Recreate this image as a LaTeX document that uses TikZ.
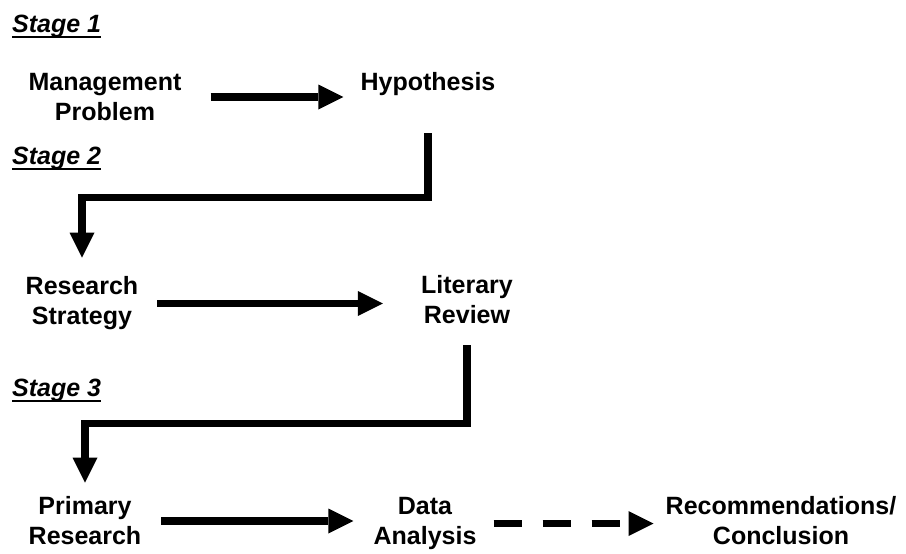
\documentclass[tikz,border=0pt]{standalone}
\usepackage{fontspec}
\setmainfont{Liberation Sans}
\usetikzlibrary{arrows.meta,calc,positioning}
\tikzset{%
  >={Triangle[length=25pt,width=25pt,line width=0pt]},
  line/.style  = {draw, line width=7.5pt, ->, line join=miter},
  dline/.style = {line, dash pattern=on 28pt off 21pt},
  uline/.style = {draw, line width=2pt}
}
\begin{document}
\begin{tikzpicture}[x=1pt,y=-1pt,
                    v/.style={inner sep=2pt,align=center,%
                    font=\fontsize{25}{30}\selectfont\bfseries},%
                    st/.style={inner sep=0pt,anchor=base west,%
                    font=\fontsize{25}{30}\selectfont\bfseries\itshape}]
  \useasboundingbox (0,0) rectangle (906,554);
  \node[st] (stage1) at (12,32) {Stage 1};
  \node[st] (stage2) at (12,164) {Stage 2};
  \node[st] (stage3) at (12,396) {Stage 3};
  \draw[uline] ($(stage1.base west)+(0,5)$) -- ($(stage1.base east)+(0,5)$);
  \draw[uline] ($(stage2.base west)+(0,5)$) -- ($(stage2.base east)+(0,5)$);
  \draw[uline] ($(stage3.base west)+(0,5)$) -- ($(stage3.base east)+(0,5)$);

  \node[v] (mgmt) at (105,97) {Management\\Problem};
  \node[v] (hyp) at (428,84.5) {Hypothesis};
  \node[v] (strategy) at (82,303.5) {Research\\Strategy};
  \node[v] (review) at (467,300) {Literary\\Review};
  \node[v] (primary) at (85,521) {Primary\\Research};
  \node[v] (analysis) at (425,523.5) {Data\\Analysis};
  \node[v] (recom) at (781,521) {Recommendations/\\Conclusion};

  \draw[line,shorten <=27pt,shorten >=15pt] (mgmt.east) -- (mgmt.east -| hyp.west);
  \draw[line,shorten <=35pt,shorten >=17pt] (hyp.south) -- ++(0,99) -| (strategy.north);
  \draw[line,shorten <=17pt,shorten >=36pt] (strategy.east) -- (strategy.east -| review.west);
  \draw[line,shorten <=19pt,shorten >=12pt] (review.south) -- ++(0,97) -| (primary.north);
  \draw[line,shorten <=18pt,shorten >=18pt] (primary.east) -- (primary.east -| analysis.west);
  \draw[dline,shorten <=15pt,shorten >=10pt] (analysis.east) -- (analysis.east -| recom.west);
\end{tikzpicture}
\end{document}
